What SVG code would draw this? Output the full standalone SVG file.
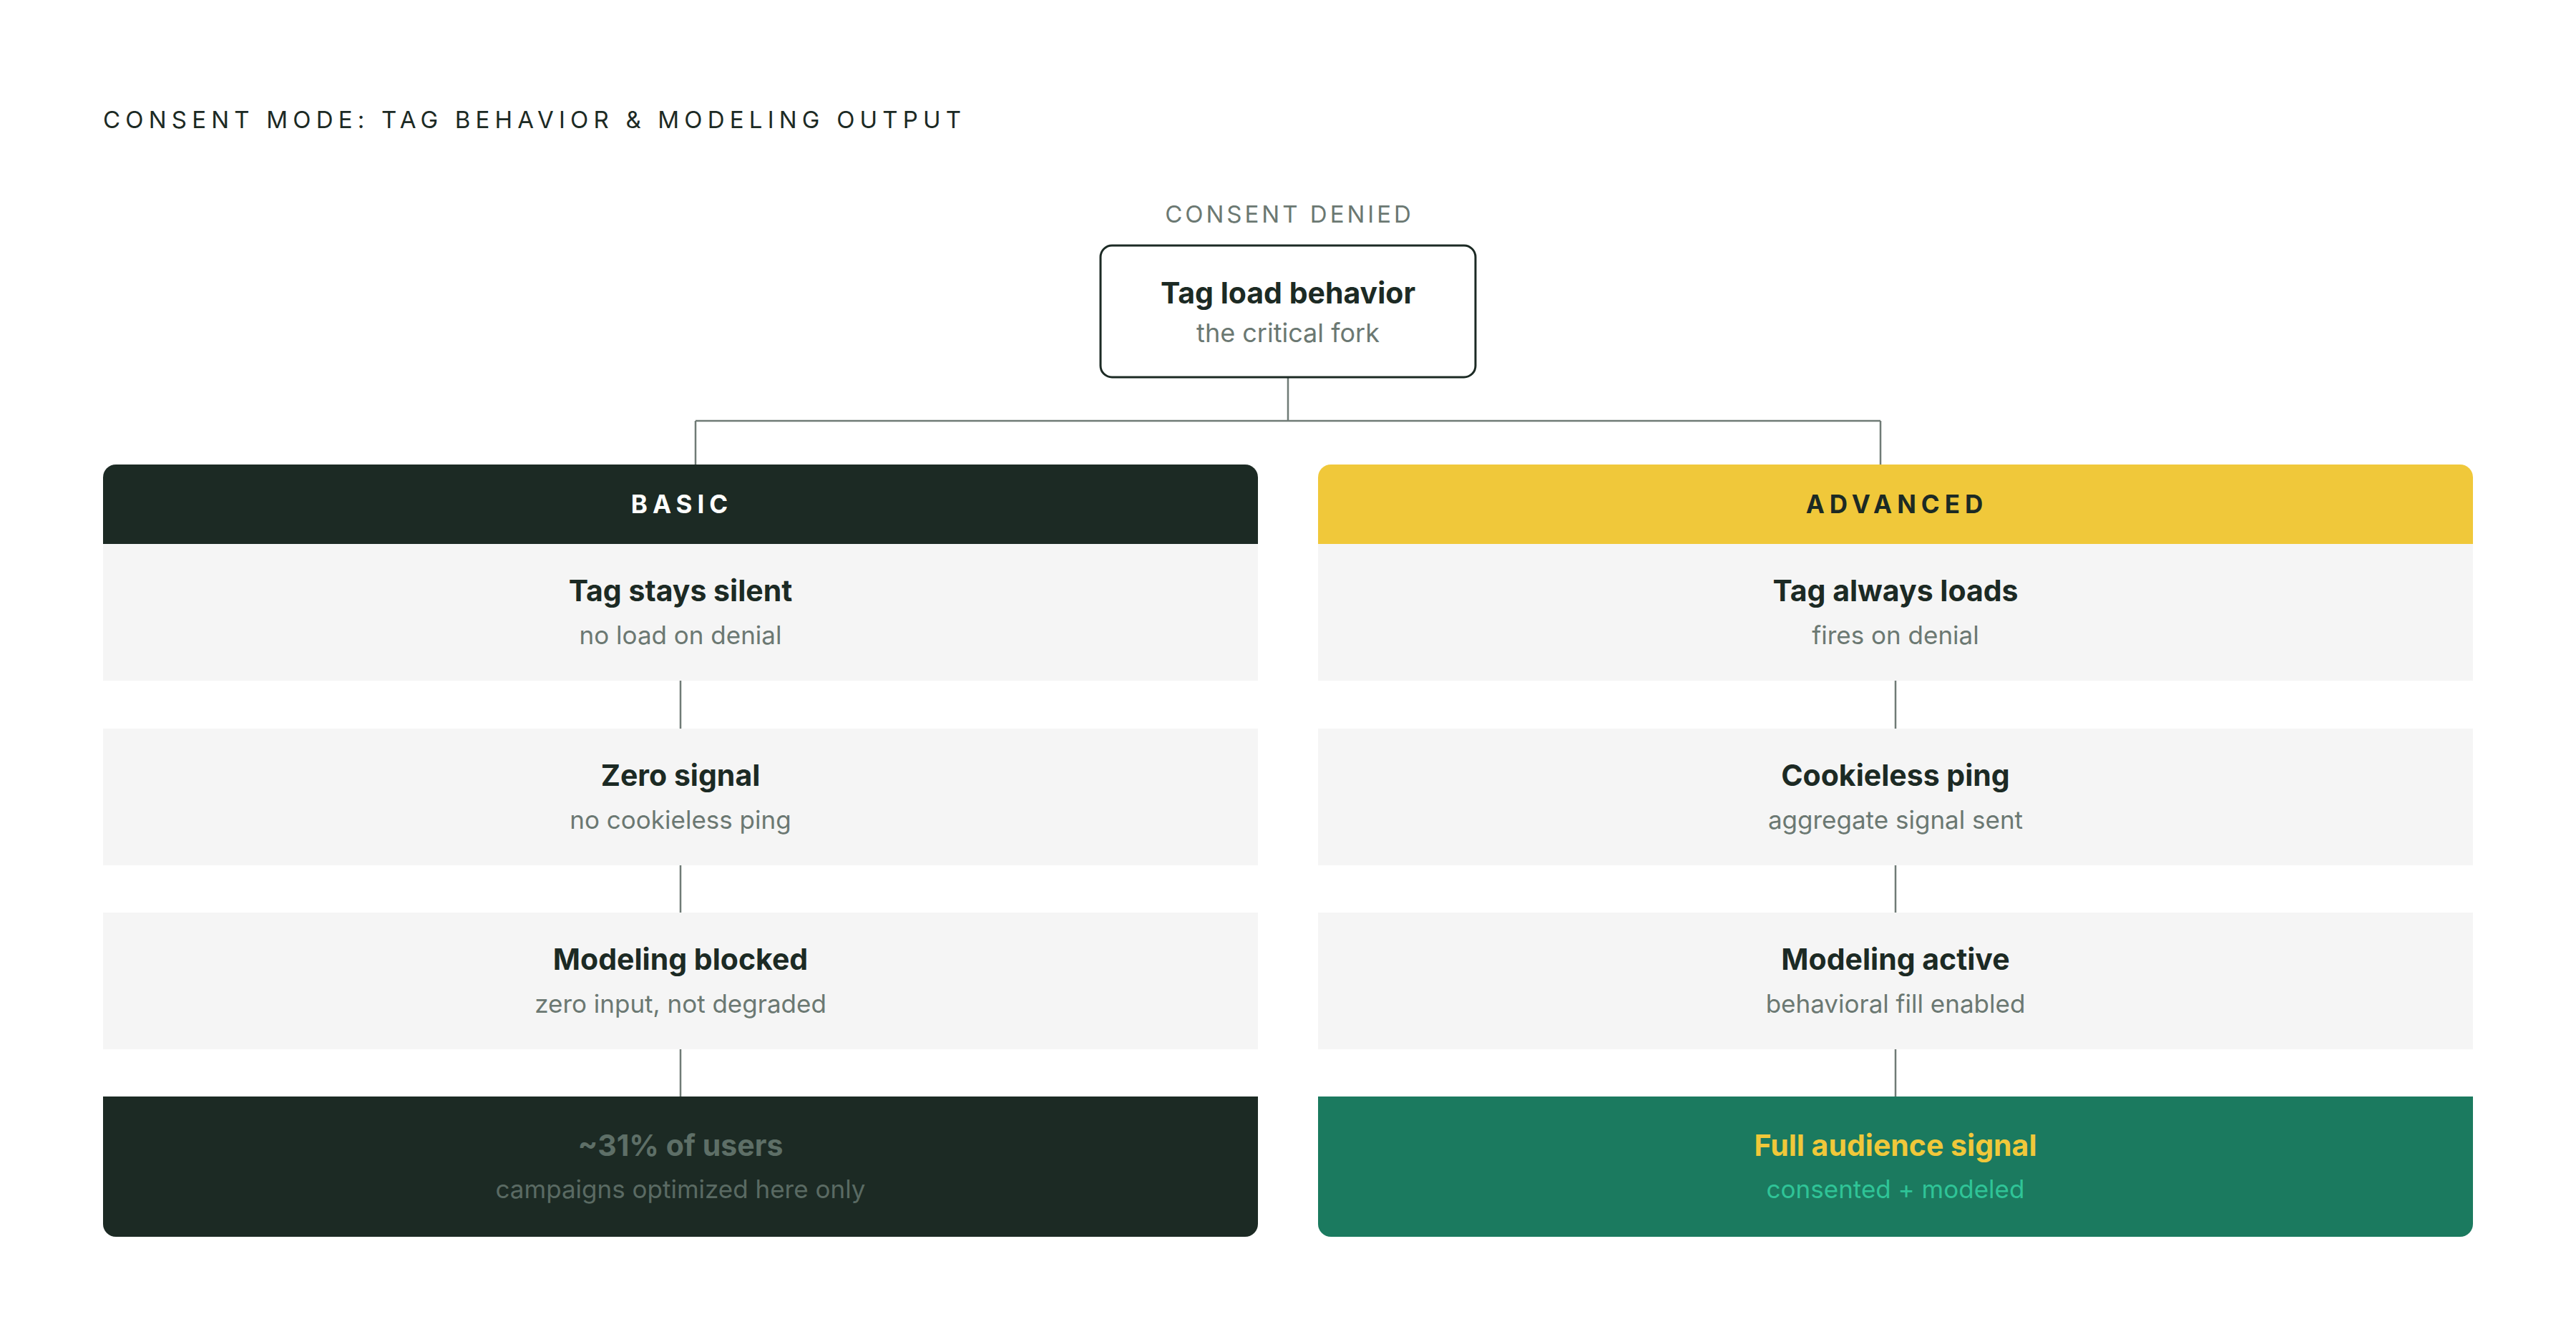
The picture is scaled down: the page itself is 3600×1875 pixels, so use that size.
<svg xmlns="http://www.w3.org/2000/svg" width="3600" height="1875" viewBox="0 0 3600 1875">
<style>
text{font-family:Inter,"DejaVu Sans",sans-serif}
.cap{font-size:33px;font-weight:400}
.hd{font-size:35px;font-weight:700;letter-spacing:7px;text-anchor:middle}
.nt{font-size:41px;font-weight:700;fill:#1c2a24;text-anchor:middle}
.ns{font-size:35px;font-weight:400;fill:#6b7872;text-anchor:middle}
.row{fill:#f5f5f5}
.ln{stroke:#6f7b76;stroke-width:2.5;fill:none}
</style>
<rect width="3600" height="1875" fill="#ffffff"/>
<text class="cap" x="144" y="179" fill="#1c2a24" style="letter-spacing:7.2px">CONSENT MODE: TAG BEHAVIOR &amp; MODELING OUTPUT</text>
<text class="cap" x="1802" y="311" fill="#6b7872" text-anchor="middle" style="letter-spacing:4px">CONSENT DENIED</text>
<g id="connectors">
<path class="ln" d="M1800,527 V588 M972,588 H2628 M972,588 V649 M2628,588 V649"/>
<path class="ln" d="M951,951 V1018 M951,1209 V1275 M951,1466 V1532"/>
<path class="ln" d="M2649,951 V1018 M2649,1209 V1275 M2649,1466 V1532"/>
</g>
<g id="tag-load">
<rect x="1538" y="343" width="524" height="184" rx="16" fill="#ffffff" stroke="#1c2a24" stroke-width="3"/>
<text class="nt" x="1800" y="424" style="font-size:41px">Tag load behavior</text>
<text class="ns" x="1800" y="478" style="font-size:36px">the critical fork</text>
</g>
<g id="basic-header">
<path d="M144,760 V667 A18,18 0 0 1 162,649 H1740 A18,18 0 0 1 1758,667 V760 Z" fill="#1c2a24"/>
<text class="hd" x="953" y="717" fill="#ffffff">BASIC</text>
</g>
<g id="advanced-header">
<path d="M1842,760 V667 A18,18 0 0 1 1860,649 H3438 A18,18 0 0 1 3456,667 V760 Z" fill="#f0c83a"/>
<text class="hd" x="2651" y="717" fill="#1c2a24">ADVANCED</text>
</g>
<g id="basic-1">
<rect class="row" x="144" y="760" width="1614" height="191"/>
<text class="nt" x="951" y="840">Tag stays silent</text>
<text class="ns" x="951" y="900">no load on denial</text>
</g>
<g id="basic-2">
<rect class="row" x="144" y="1018" width="1614" height="191"/>
<text class="nt" x="951" y="1098">Zero signal</text>
<text class="ns" x="951" y="1158">no cookieless ping</text>
</g>
<g id="basic-3">
<rect class="row" x="144" y="1275" width="1614" height="191"/>
<text class="nt" x="951" y="1355">Modeling blocked</text>
<text class="ns" x="951" y="1415">zero input, not degraded</text>
</g>
<g id="basic-result">
<path d="M144,1532 H1758 V1710 A18,18 0 0 1 1740,1728 H162 A18,18 0 0 1 144,1710 Z" fill="#1c2a24"/>
<text class="nt" x="951" y="1615" style="fill:#5e6f67">~31% of users</text>
<text class="ns" x="951" y="1674" style="fill:#5a6a63">campaigns optimized here only</text>
</g>
<g id="advanced-1">
<rect class="row" x="1842" y="760" width="1614" height="191"/>
<text class="nt" x="2649" y="840">Tag always loads</text>
<text class="ns" x="2649" y="900">fires on denial</text>
</g>
<g id="advanced-2">
<rect class="row" x="1842" y="1018" width="1614" height="191"/>
<text class="nt" x="2649" y="1098">Cookieless ping</text>
<text class="ns" x="2649" y="1158">aggregate signal sent</text>
</g>
<g id="advanced-3">
<rect class="row" x="1842" y="1275" width="1614" height="191"/>
<text class="nt" x="2649" y="1355">Modeling active</text>
<text class="ns" x="2649" y="1415">behavioral fill enabled</text>
</g>
<g id="advanced-result">
<path d="M1842,1532 H3456 V1710 A18,18 0 0 1 3438,1728 H1860 A18,18 0 0 1 1842,1710 Z" fill="#1b7a5f"/>
<text class="nt" x="2649" y="1615" style="fill:#f0c83a">Full audience signal</text>
<text class="ns" x="2649" y="1674" style="fill:#2fc497">consented + modeled</text>
</g>
</svg>
